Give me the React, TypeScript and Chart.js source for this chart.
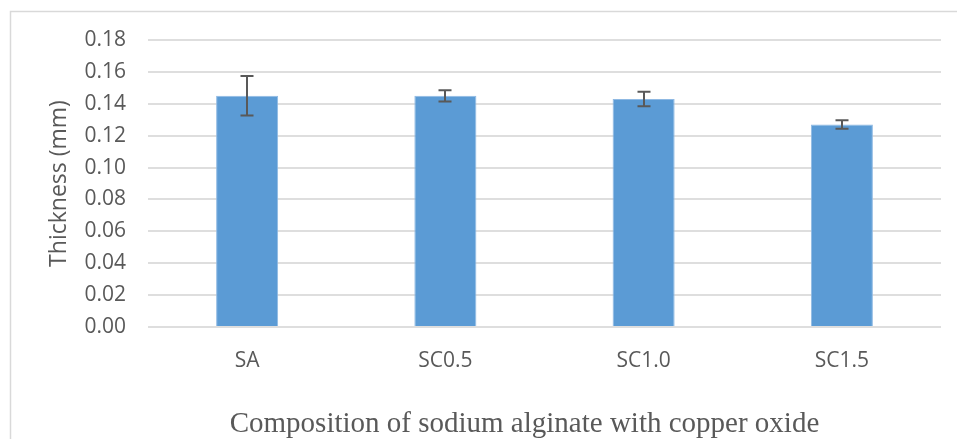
import { useEffect, useRef } from 'react';
import { Chart, registerables } from 'chart.js';

Chart.register(...registerables);

const categories = ['SA', 'SC0.5', 'SC1.0', 'SC1.5'];
const thickness = [0.145, 0.145, 0.143, 0.127];
const errors = [0.0124, 0.0035, 0.0045, 0.0027];
const yMin = 0;
const yMax = 0.18;
const yStep = 0.02;
const xTitle = 'Composition of sodium alginate with copper oxide';
const yTitle = 'Thickness (mm)';

const TEXT = '#595959';
const SANS = '"Open Sans", sans-serif';

const framePlugin = {
  id: 'frame',
  beforeDraw(chart: any) {
    const ctx = chart.ctx;
    ctx.save();
    ctx.fillStyle = '#ffffff';
    ctx.fillRect(0, 0, chart.width, chart.height);
    ctx.strokeStyle = '#d9d9d9';
    ctx.lineWidth = 1.5;
    ctx.strokeRect(10.5, 11.5, chart.width + 50, chart.height + 50);
    ctx.restore();
  },
};

const errorBarPlugin = {
  id: 'errorBars',
  afterDatasetsDraw(chart: any) {
    const ctx = chart.ctx;
    const yScale = chart.scales.y;
    const meta = chart.getDatasetMeta(0);
    ctx.save();
    ctx.strokeStyle = '#595959';
    ctx.lineWidth = 2;
    meta.data.forEach((bar: any, i: number) => {
      const x = Math.round(bar.x);
      const yTop = yScale.getPixelForValue(thickness[i] + errors[i]);
      const yBot = yScale.getPixelForValue(thickness[i] - errors[i]);
      const cap = 6.5;
      ctx.beginPath();
      ctx.moveTo(x, yTop);
      ctx.lineTo(x, yBot);
      ctx.moveTo(x - cap, yTop);
      ctx.lineTo(x + cap, yTop);
      ctx.moveTo(x - cap, yBot);
      ctx.lineTo(x + cap, yBot);
      ctx.stroke();
    });
    ctx.restore();
  },
};

const xTitlePlugin = {
  id: 'xTitleText',
  afterDraw(chart: any) {
    const ctx = chart.ctx;
    const area = chart.chartArea;
    ctx.save();
    ctx.font = '29px "Liberation Serif", "Times New Roman", serif';
    ctx.fillStyle = TEXT;
    ctx.textAlign = 'center';
    ctx.textBaseline = 'alphabetic';
    const cx = (area.left + area.right) / 2 - 20;
    ctx.fillText(xTitle, cx, area.bottom + 105);
    ctx.restore();
  },
};

export default function App() {
  const ref = useRef<HTMLCanvasElement | null>(null);

  useEffect(() => {
    document.body.style.margin = '0';
    const canvas = ref.current;
    if (!canvas) return;
    const chart = new Chart(canvas, {
      type: 'bar',
      data: {
        labels: categories,
        datasets: [
          {
            label: yTitle,
            data: thickness,
            backgroundColor: '#5b9bd5',
            borderColor: '#8fb9e3',
            borderWidth: 1,
            categoryPercentage: 1,
            barPercentage: 0.313,
          },
        ],
      },
      options: {
        responsive: false,
        animation: false,
        events: [],
        layout: { padding: { top: 40, right: 16, bottom: 0, left: 0 } },
        plugins: {
          legend: { display: false },
          tooltip: { enabled: false },
          title: { display: false },
        },
        scales: {
          x: {
            grid: { display: false },
            border: { display: false },
            ticks: {
              color: TEXT,
              font: { family: SANS, size: 21 },
              padding: 13,
              maxRotation: 0,
            },
            afterFit(scale: any) {
              scale.height = 112;
            },
          },
          y: {
            min: yMin,
            max: yMax,
            grid: { color: '#dedede', lineWidth: 2, drawTicks: false },
            border: { display: false },
            ticks: {
              stepSize: yStep,
              color: TEXT,
              font: { family: SANS, size: 21 },
              padding: 22,
              callback: (v: any) => Number(v).toFixed(2),
            },
            title: {
              display: true,
              text: yTitle,
              color: TEXT,
              font: { family: SANS, size: 23 },
              padding: { top: 46, bottom: 0 },
            },
            afterFit(scale: any) {
              scale.width = 148;
            },
          },
        },
      },
      plugins: [framePlugin, errorBarPlugin, xTitlePlugin],
    });
    return () => chart.destroy();
  }, []);

  return <canvas ref={ref} width={957} height={439} style={{ display: 'block' }} />;
}
